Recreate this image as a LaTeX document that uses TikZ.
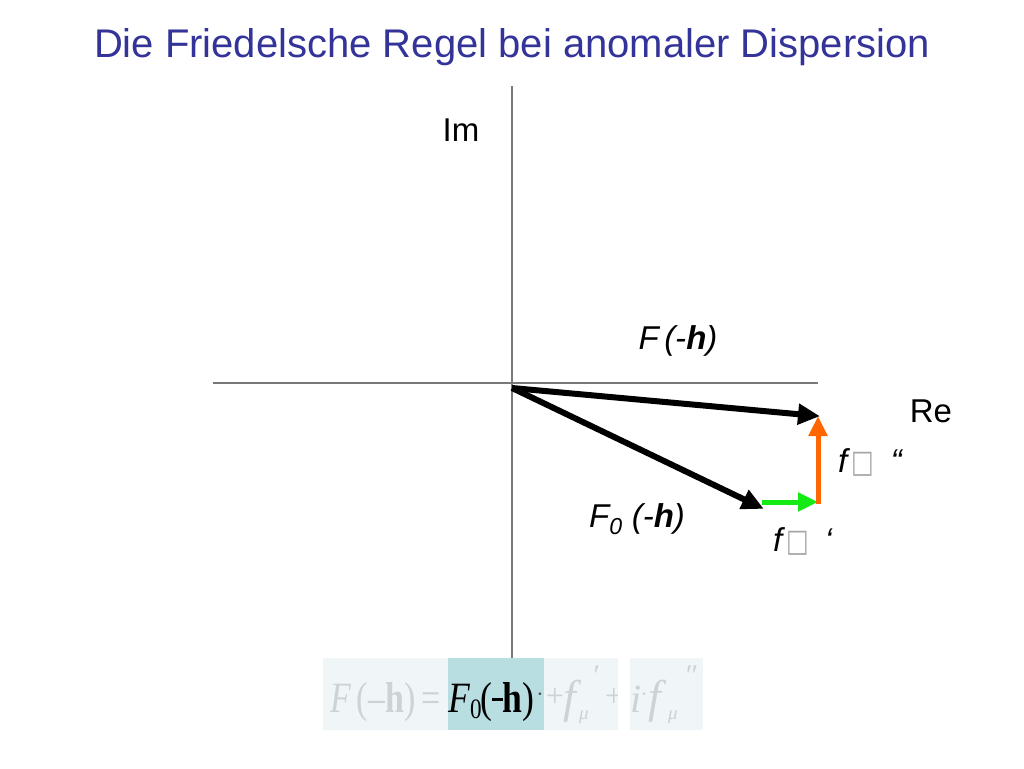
\documentclass[tikz,border=0pt]{standalone}
\usepackage{fontspec}
\setmainfont{Liberation Sans}
\newfontfamily\serifmath{Liberation Serif}
\newfontfamily\symfont{DejaVu Sans}
\usetikzlibrary{arrows.meta}
\definecolor{titleblue}{RGB}{51,51,153}
\definecolor{axisgray}{RGB}{120,120,120}
\definecolor{vgreen}{RGB}{20,235,20}
\definecolor{vorange}{RGB}{255,102,0}
\definecolor{panel}{RGB}{240,245,247}
\definecolor{hilite}{RGB}{184,222,226}
\definecolor{faded}{RGB}{205,210,212}
\tikzset{
  axis/.style={draw=axisgray, line width=1.3pt},
  vec/.style={line width=6pt, -{Triangle[length=22pt,width=20pt]}, shorten >=-2pt},
  cvec/.style={line width=5pt, -{Triangle[length=20pt,width=18pt]}},
  lbl/.style={font=\fontsize{33}{36}\selectfont, inner sep=0pt},
  eqpart/.style={inner sep=0pt, anchor=base west, font=\serifmath\fontsize{40}{44}\selectfont, text=faded},
  eqf/.style={eqpart, font=\serifmath\itshape\fontsize{46}{50}\selectfont},
  eqmu/.style={eqpart, font=\serifmath\itshape\fontsize{19}{21}\selectfont},
  eqsmall/.style={inner sep=0pt, font=\serifmath\fontsize{32}{36}\selectfont, text=faded},
  eqdot/.style={inner sep=0pt, font=\serifmath\fontsize{22}{24}\selectfont, text=faded},
  eqprime/.style={inner sep=0pt, font=\serifmath\fontsize{30}{32}\selectfont, text=faded}
}
\newcommand{\mubox}{{\symfont\color{gray!70}\fontsize{30}{32}\selectfont\scalebox{0.8}[1.05]{□}}}
\begin{document}
\begin{tikzpicture}[x=1pt,y=-1pt]
\useasboundingbox (0,0) rectangle (1024,768);
% title
\node[text=titleblue, font=\fontsize{40}{44}\selectfont, inner sep=0pt] (title) at (512,47) {Die Friedelsche Regel bei anomaler Dispersion};
% formula panels
\fill[panel] (323,658) rectangle (448,730);
\fill[hilite] (448,658) rectangle (544,730);
\fill[panel] (544,658) rectangle (618,730);
\fill[panel] (630,658) rectangle (703,730);
% axes
\coordinate (ytop) at (512,86);
\coordinate (ybot) at (512,658);
\coordinate (xl) at (213,383);
\coordinate (xr) at (818,383);
\draw[axis] (ytop) -- (ybot);
\draw[axis] (xl) -- (xr);
% vector points
\coordinate (O) at (512,388);
\coordinate (P) at (818,416);
\coordinate (Q) at (762,508);
\coordinate (Qs) at (762,502);
\coordinate (R) at (818,502);
\draw[vec] (O) -- (P);
\draw[vec] (O) -- (Q);
\draw[cvec, vgreen] (Qs) -- (R);
\draw[cvec, vorange] ([yshift=-2pt]R) -- (P);
% labels
\node[lbl] (im) at (461,130) {Im};
\node[lbl] (re) at (931,411) {Re};
\node[lbl] (F) at (678,341) {\textit{F\,(-\textbf{h})}};
\node[lbl] (F0) at (637,519) {\textit{F\textsubscript{0} (-\textbf{h})}};
\node[lbl, anchor=base west] (fpp) at (838,472) {\textit{f}\hspace{1pt}\mubox\hspace{17pt}\textit{“}};
\node[lbl, anchor=base west] (fp) at (773,551) {\textit{f}\hspace{1pt}\mubox\hspace{16pt}\textit{‘}};
% formula
\node[eqpart] (eqa) at (330,712) {\resizebox{110pt}{30pt}{\textit{F}\,(–\textbf{h})\,=}};
\node[eqpart, text=black] (eqb) at (448,712) {\resizebox{86pt}{30pt}{\textit{F}\raisebox{-6pt}{\fontsize{26}{28}\selectfont 0}\hspace{-2pt}(\rule[10pt]{12pt}{3pt}\textbf{h})}};
\node[eqdot, text=black!70] (dota) at (540,697) {·};
\node[eqsmall] (plusa) at (555,697) {+};
\node[eqf] (fa) at (563,712) {f};
\node[eqmu] (mua) at (579,719) {μ};
\node[eqprime] (pra) at (597,676) {′};
\node[eqsmall] (plusb) at (614,697) {+};
\fill[white] (618,658) rectangle (630,730);
\node[eqpart] (ia) at (630,712) {\textit{i}};
\node[eqdot] (dotb) at (644,697) {·};
\node[eqf] (fb) at (648,712) {f};
\node[eqmu] (mub) at (668,719) {μ};
\node[eqprime] (prb) at (692,676) {″};
\end{tikzpicture}
\end{document}
